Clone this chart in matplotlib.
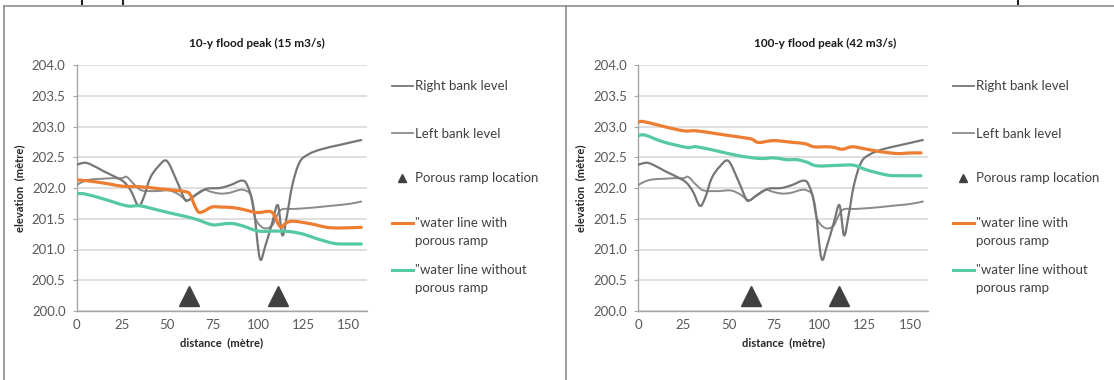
import numpy as np
import matplotlib.pyplot as plt
from matplotlib.path import Path
from matplotlib.patches import PathPatch
from matplotlib.lines import Line2D

plt.rcParams['font.family'] = ['Lato', 'DejaVu Sans']

W, H = 1114, 380

# bank levels along the reach (same for both floods)
right_bank_x = [0, 5, 10, 15, 20, 26, 30, 34, 37, 40.5, 45, 49.7, 55, 59.5, 61.5, 64, 68, 72,
                79, 85, 91, 94, 97.5, 101, 104, 108, 111, 113.5, 116, 119, 123, 128, 135, 145, 157]
right_bank_y = [202.38, 202.41, 202.35, 202.27, 202.2, 202.1, 201.95, 201.71, 201.85, 202.16,
                202.35, 202.44, 202.13, 201.82, 201.8, 201.85, 201.93, 201.99, 202.0, 202.05,
                202.12, 202.05, 201.7, 200.86, 201.05, 201.45, 201.72, 201.23, 201.55, 202.05,
                202.42, 202.55, 202.63, 202.7, 202.78]

left_bank_x = [0, 4, 8, 14, 20, 25, 27.6, 32, 36, 44, 51, 56, 61, 65, 70, 74, 79, 84, 90, 93,
               96, 98.5, 103, 107.5, 110, 113, 120, 130, 140, 150, 157]
left_bank_y = [202.05, 202.11, 202.14, 202.15, 202.16, 202.16, 202.18, 202.05, 201.96, 201.95,
               201.96, 201.9, 201.8, 201.88, 201.97, 201.94, 201.91, 201.92, 201.97, 201.96,
               201.88, 201.51, 201.35, 201.38, 201.52, 201.65, 201.66, 201.68, 201.71, 201.74,
               201.78]

# porous ramps
ramp_x = [62, 111]
ramp_y = [200.24, 200.24]

# 10-year flood water lines
q10_with_x = [0, 5, 15, 25, 35, 45, 55, 60, 62.5, 65, 67.2, 70, 74.5, 80, 86.5, 92, 99.4,
              105.8, 108.5, 112.3, 115.5, 118.7, 125, 132, 138, 145, 157]
q10_with_y = [202.13, 202.12, 202.08, 202.03, 202.02, 201.99, 201.96, 201.94, 201.9, 201.72,
              201.61, 201.62, 201.69, 201.69, 201.68, 201.65, 201.6, 201.62, 201.58, 201.37,
              201.43, 201.46, 201.44, 201.4, 201.36, 201.35, 201.36]
q10_without_x = [0, 5, 15, 27.6, 35, 45, 55, 65, 73.6, 77, 82, 86.5, 92, 100.3, 110, 117.8,
                 125, 132, 141.7, 148, 157]
q10_without_y = [201.91, 201.9, 201.82, 201.71, 201.71, 201.64, 201.57, 201.5, 201.41, 201.4,
                 201.42, 201.42, 201.38, 201.3, 201.3, 201.29, 201.25, 201.18, 201.1, 201.09,
                 201.09]

# 100-year flood water lines
q100_with_x = [0, 3, 14, 25, 32, 41.5, 50.7, 60, 63, 66.4, 74.7, 85.8, 92, 97, 104, 108,
               112.5, 118, 124.5, 133.8, 143, 150, 156]
q100_with_y = [203.07, 203.08, 203.0, 202.93, 202.93, 202.89, 202.85, 202.81, 202.79, 202.74,
               202.77, 202.74, 202.72, 202.67, 202.67, 202.66, 202.63, 202.67, 202.64, 202.59,
               202.56, 202.57, 202.57]
q100_without_x = [0, 3.7, 13.8, 26.8, 32.3, 45.2, 56.3, 67.3, 74.7, 82.1, 87.6, 93, 98.7,
                  111.6, 119, 126.4, 137.5, 144.8, 156]
q100_without_y = [202.85, 202.86, 202.75, 202.66, 202.67, 202.59, 202.52, 202.48, 202.49,
                  202.46, 202.46, 202.42, 202.36, 202.37, 202.37, 202.29, 202.21, 202.2, 202.2]

titles = ["10-y flood peak (15 m3/s)", "100-y flood peak (42 m3/s)"]
legend_labels = ["Right bank level", "Left bank level", "Porous ramp location",
                 "\"water line with\nporous ramp", "\"water line without\nporous ramp"]

ORANGE = '#ED7D31'
TEAL = '#55C8A6'
GREY_R = '#767676'
GREY_L = '#8A8A8A'
DARK = '#404040'
TXT = '#595959'


def smooth_path(x, y):
    # smoothed line through the points (cubic bezier, like a spreadsheet "smooth line")
    p = np.column_stack([x, y]).astype(float)
    n = len(p)
    verts = [p[0]]
    codes = [Path.MOVETO]
    for i in range(n - 1):
        p0, p1 = p[max(i - 1, 0)], p[i]
        p2, p3 = p[i + 1], p[min(i + 2, n - 1)]
        verts += [p1 + (p2 - p0) / 6, p2 - (p3 - p1) / 6, p2]
        codes += [Path.CURVE4] * 3
    return Path(verts, codes)


def curve(ax, x, y, color, lw, z=3):
    ax.add_patch(PathPatch(smooth_path(x, y), fill=False, edgecolor=color, lw=lw,
                           capstyle='round', joinstyle='round', zorder=z))


def fx(px):
    return px / W


def fy(py):
    return 1 - py / H


fig = plt.figure(figsize=(W / 100, H / 100), dpi=100)

# table borders of the page
fig.add_artist(Line2D([fx(4), 1], [fy(6), fy(6)], color='#8C8C8C', lw=1.2))
fig.add_artist(Line2D([fx(4), fx(4)], [fy(6), 0], color='#8C8C8C', lw=1.2))
fig.add_artist(Line2D([fx(566), fx(566)], [fy(6), 0], color='#8C8C8C', lw=1.2))
for px in [82, 123, 1018]:
    fig.add_artist(Line2D([fx(px), fx(px)], [1, fy(4)], color='#222222', lw=1.5))

panels = [
    (76.7, 257, q10_with_x, q10_with_y, q10_without_x, q10_without_y, 392),
    (638.3, 825, q100_with_x, q100_with_y, q100_without_x, q100_without_y, 953),
]

for k, (left, tc, wx, wy, nx, ny, lg) in enumerate(panels):
    ax = fig.add_axes([fx(left), fy(311), 290 / W, 246 / H])
    ax.set_xlim(0, 160)
    ax.set_ylim(200, 204)
    ax.set_xticks(np.arange(0, 151, 25))
    ax.set_yticks(np.arange(200, 204.01, 0.5))
    ax.set_yticklabels([f"{v:.1f}" for v in np.arange(200, 204.01, 0.5)])
    ax.grid(axis='y', color='#D9D9D9', lw=1.2)
    ax.set_axisbelow(True)
    for s in ['top', 'right']:
        ax.spines[s].set_visible(False)
    for s in ['left', 'bottom']:
        ax.spines[s].set_color('#A6A6A6')
        ax.spines[s].set_linewidth(1.0)
    ax.tick_params(axis='y', length=3, color='#A6A6A6', labelsize=9.5, labelcolor=TXT, pad=5)
    ax.tick_params(axis='x', length=0, labelsize=9.5, labelcolor=TXT, pad=6)
    ax.set_xlabel("distance  (mètre)", fontsize=8, fontweight='bold', color='#262626', labelpad=4)
    ax.set_ylabel("elevation  (mètre)", fontsize=8, fontweight='bold', color='#262626', labelpad=5)
    fig.text(fx(tc), fy(43), titles[k], fontsize=8.5, fontweight='bold', color='#1a1a1a',
             ha='center', va='center')

    curve(ax, left_bank_x, left_bank_y, GREY_L, 1.4)
    curve(ax, right_bank_x, right_bank_y, GREY_R, 1.6)
    curve(ax, wx, wy, ORANGE, 2.3, z=4)
    curve(ax, nx, ny, TEAL, 2.3, z=4)
    ax.plot(ramp_x, ramp_y, linestyle='none', marker='^', ms=14, color=DARK, zorder=5)

    # legend to the right of the plot
    tx = lg + 23
    rows = [86, 133, 178, 223, 270]
    handles = [(GREY_R, 1.3), (GREY_L, 1.3), None, (ORANGE, 2.2), (TEAL, 2.2)]
    for lab, py, h in zip(legend_labels, rows, handles):
        if h is None:
            fig.add_artist(Line2D([fx(lg + 10)], [fy(py)], marker='^', ms=6, color=DARK,
                                  linestyle='none'))
        else:
            fig.add_artist(Line2D([fx(lg), fx(lg + 21)], [fy(py), fy(py)], color=h[0], lw=h[1]))
        fig.text(fx(tx), fy(py - 5.5), lab, fontsize=9.5, color=DARK, va='top', ha='left',
                 linespacing=1.6)

fig.savefig("out.png", dpi=100)
